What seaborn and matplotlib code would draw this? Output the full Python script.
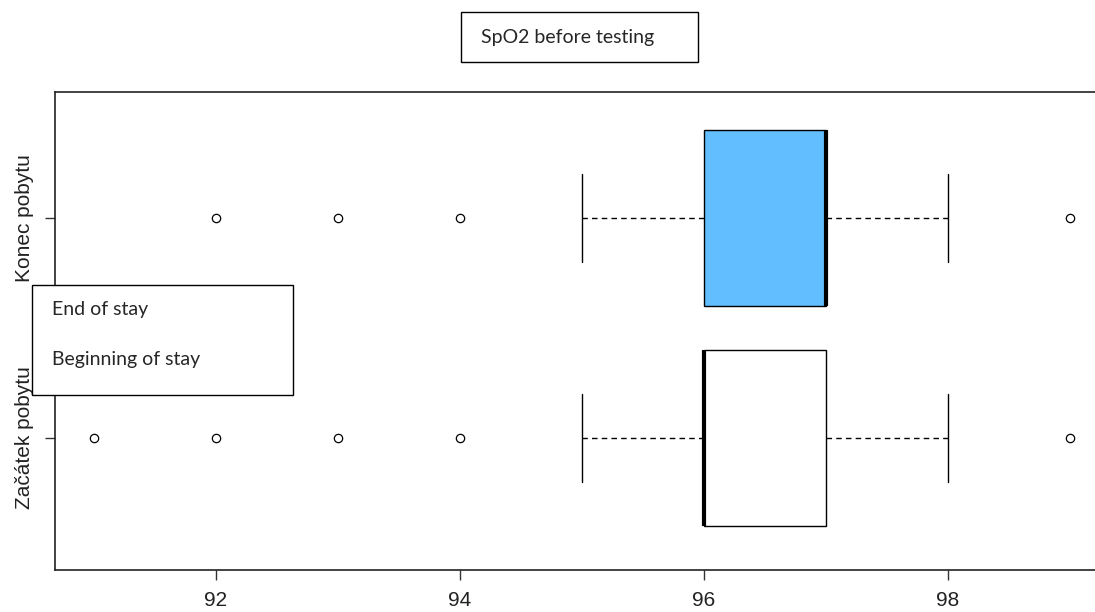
import numpy as np
import pandas as pd
import matplotlib
matplotlib.use("Agg")
import matplotlib.pyplot as plt
import seaborn as sns

# SpO2 readings (%) and how many patients had each value
groups = ["Konec pobytu", "Začátek pobytu"]
spo2_values = [91, 92, 93, 94, 95, 96, 97, 98, 99]
counts_end = [0, 1, 1, 1, 2, 8, 10, 3, 1]
counts_begin = [1, 1, 1, 1, 2, 10, 8, 3, 1]
box_colors = {"Konec pobytu": "#63BEFF", "Začátek pobytu": "white"}
x_ticks = [92, 94, 96, 98]

rows = []
for grp, counts in zip(groups, [counts_end, counts_begin]):
    for v, c in zip(spo2_values, counts):
        rows += [(grp, v)] * c
df = pd.DataFrame(rows, columns=["group", "spo2"])

sns.set_style("white")
plt.rcParams["font.family"] = ["Liberation Sans", "DejaVu Sans"]

fig = plt.figure(figsize=(10.95, 6.12), dpi=100)
ax = fig.add_axes([55 / 1095, 1 - 570 / 612, (1109 - 55) / 1095, (570 - 92) / 612])

sns.boxplot(
    data=df, x="spo2", y="group", hue="group", order=groups,
    palette=box_colors, saturation=1, legend=False, width=0.8, whis=1.5,
    linecolor="black", linewidth=1.0, ax=ax,
    boxprops=dict(edgecolor="black", linewidth=1.0),
    whiskerprops=dict(linestyle=(0, (4, 3)), color="black", linewidth=1.0),
    capprops=dict(color="black", linewidth=1.0),
    medianprops=dict(color="black", linewidth=3.0, solid_capstyle="butt"),
    flierprops=dict(marker="o", markerfacecolor="white", markeredgecolor="black",
                    markersize=6, markeredgewidth=0.9),
)

ax.set_xlim(90.68, 99.32)
ax.set_ylim(1.6, -0.573)
ax.set_xticks(x_ticks)
ax.set_xticklabels([str(t) for t in x_ticks], fontsize=15, color="#222222")
ax.set_yticks([0, 1])
ax.set_yticklabels(groups, rotation=90, va="center", fontsize=15, color="#222222")
ax.tick_params(axis="x", direction="out", length=7, width=1, color="#333333",
               bottom=True, pad=8)
ax.tick_params(axis="y", direction="out", length=7, width=1, color="#333333",
               left=True, pad=8)
ax.set_xlabel("")
ax.set_ylabel("")
for s in ax.spines.values():
    s.set_visible(True)
    s.set_color("#222222")
    s.set_linewidth(1.2)

# Overlay text boxes
box_font = ["Lato", "DejaVu Sans"]
fig.patches.append(plt.Rectangle((461 / 1095, 1 - 62 / 612), (698 - 461) / 1095, 50 / 612,
                                 transform=fig.transFigure, facecolor="white",
                                 edgecolor="black", linewidth=1.0, zorder=5))
fig.text(481 / 1095, 1 - 37 / 612, "SpO2 before testing", family=box_font,
         fontsize=14, va="center", ha="left", zorder=6)

leg_rect = plt.Rectangle((32 / 1095, 1 - 395 / 612), (293 - 32) / 1095, 110 / 612,
                         transform=fig.transFigure, facecolor="white",
                         edgecolor="black", linewidth=1.0, zorder=5)
fig.patches.append(leg_rect)
fig.text(52 / 1095, 1 - 309 / 612, "End of stay", family=box_font,
         fontsize=14, va="center", ha="left", zorder=6)
fig.text(52 / 1095, 1 - 360 / 612, "Beginning of stay", family=box_font,
         fontsize=14, va="center", ha="left", zorder=6)

fig.savefig("out.png", dpi=100)
